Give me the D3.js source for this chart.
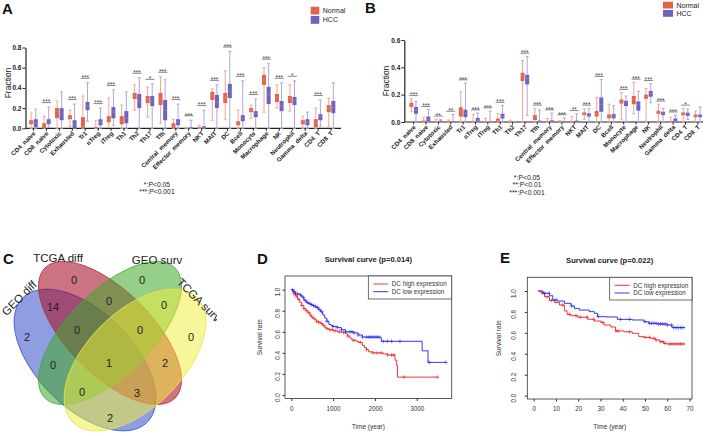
<!DOCTYPE html>
<html><head><meta charset="utf-8">
<script src="https://cdn.jsdelivr.net/npm/d3@7/dist/d3.min.js"></script>
<style>
body{margin:0;background:#fff}
svg{display:block}
text{font-family:"Liberation Sans",Arial,Helvetica,sans-serif}
</style>
</head><body>
<svg id="c" width="708" height="436"></svg>
<script>
// ---------------- DATA ----------------
const cells = ["CD4_naive","CD8_naive","Cytotoxic","Exhausted","Tr1","nTreg","iTreg","Th1","Th2","Th17","Tfh",
  "Central_memory","Effector_memory","NKT","MAIT","DC","Bcell","Monocyte","Macrophage","NK","Neutrophil",
  "Gamma_delta","CD4_T","CD8_T"];
const groups = ["Normal","HCC"];
// [min, q1, median, q3, max]
const aNormal = [[0,0.04,0.06,0.08,0.15],[0,0,0.03,0.05,0.12],[0,0.1,0.17,0.2,0.27],[0.02,0.09,0.11,0.13,0.18],
  [0,0,0.02,0.11,0.32],[0,0,0,0.01,0.08],[0.01,0.06,0.09,0.12,0.3],[0,0.04,0.08,0.12,0.23],
  [0.18,0.29,0.32,0.35,0.43],[0.11,0.25,0.29,0.32,0.41],[0.05,0.23,0.3,0.35,0.51],[0,0,0.02,0.05,0.09],
  [0,0,0,0,0.01],[0,0,0,0.01,0.03],[0.08,0.28,0.33,0.36,0.39],[0.09,0.25,0.3,0.35,0.57],
  [0,0.03,0.05,0.07,0.18],[0.1,0.16,0.18,0.2,0.23],[0.16,0.43,0.48,0.53,0.6],[0.2,0.26,0.3,0.34,0.43],
  [0.17,0.25,0.29,0.32,0.43],[0,0.04,0.06,0.08,0.12],[0,0.01,0.05,0.09,0.2],[0.02,0.16,0.2,0.23,0.3]];
const aHCC = [[0,0.01,0.05,0.09,0.19],[0.01,0.04,0.06,0.09,0.21],[0,0.08,0.15,0.2,0.36],[0,0,0.04,0.08,0.24],
  [0.07,0.18,0.22,0.26,0.45],[0,0.03,0.06,0.09,0.2],[0.03,0.1,0.16,0.21,0.38],[0,0.05,0.1,0.17,0.36],
  [0,0.2,0.27,0.34,0.5],[0,0.22,0.27,0.32,0.44],[0,0.08,0.18,0.28,0.48],[0,0.03,0.06,0.09,0.24],
  [0,0,0,0.01,0.08],[0,0,0.01,0.02,0.18],[0,0.2,0.26,0.33,0.43],[0,0.3,0.37,0.44,0.76],
  [0,0.07,0.1,0.13,0.47],[0,0.11,0.15,0.17,0.29],[0,0.24,0.33,0.41,0.64],[0,0.17,0.22,0.27,0.45],
  [0,0.23,0.28,0.31,0.47],[0,0.03,0.06,0.09,0.16],[0.02,0.08,0.12,0.14,0.28],[0,0.15,0.21,0.27,0.45]];
const aSig = ["","***","","***","***","***","***","","***","*","***","***","***","***","***","***","***","***","***","***","*","","***",""];
const aNotes = ["*:P<0.05","***:P<0.001"];
const aTicks = [0,0.2,0.4,0.6,0.8];

const bNormal = [[0.075,0.11,0.125,0.14,0.17],[0,0,0.005,0.01,0.035],[0,0,0,0.005,0.02],[0,0,0,0.005,0.015],
  [0,0.04,0.08,0.107,0.22],[0,0,0,0.005,0.055],[0,0,0,0.003,0.028],[0,0.003,0.01,0.025,0.06],
  [0,0,0,0,0.013],[0,0.3,0.34,0.36,0.45],[0,0.015,0.035,0.05,0.1],[0,0,0,0.005,0.025],
  [0,0,0,0,0.01],[0,0,0,0.005,0.04],[0.02,0.05,0.06,0.07,0.095],[0,0.04,0.06,0.08,0.18],
  [0,0.027,0.04,0.055,0.13],[0.02,0.135,0.155,0.165,0.215],[0.06,0.13,0.165,0.19,0.29],[0,0.17,0.185,0.2,0.245],
  [0,0.06,0.075,0.083,0.13],[0,0,0,0.005,0.035],[0,0.05,0.06,0.07,0.1],[0,0.035,0.045,0.055,0.08]];
const bHCC = [[0,0.06,0.09,0.11,0.15],[0,0.005,0.02,0.04,0.09],[0,0,0.005,0.01,0.02],[0,0,0.002,0.005,0.055],
  [0,0.035,0.065,0.09,0.285],[0,0.003,0.015,0.03,0.065],[0,0,0,0.003,0.08],[0,0.025,0.04,0.06,0.12],
  [0,0,0,0,0.005],[0.05,0.275,0.32,0.345,0.48],[0,0,0.003,0.01,0.088],[0,0,0.005,0.012,0.065],
  [0,0,0,0.003,0.03],[0,0,0.005,0.01,0.06],[0,0.04,0.05,0.063,0.1],[0,0.075,0.13,0.18,0.31],
  [0,0.027,0.045,0.058,0.12],[0,0.117,0.14,0.155,0.19],[0,0.083,0.13,0.15,0.225],[0.14,0.185,0.21,0.227,0.28],
  [0,0.05,0.065,0.075,0.1],[0,0.002,0.01,0.025,0.05],[0.02,0.045,0.06,0.068,0.095],[0,0.035,0.045,0.055,0.11]];
const bSig = ["***","***","**","**","***","***","***","***","","***","***","***","***","**","***","***","","***","***","***","***","***","*",""];
const bNotes = ["*:P<0.05","**:P<0.01","***:P<0.001"];
const bTicks = [0,0.2,0.4,0.6];

// Venn (C)
const vennSets = ["GEO diff","TCGA diff","GEO surv","TCGA surv"];
const vennRegions = ["A","B","C","D","AB","BC","CD","AC","BD","AD","ABC","BCD","ACD","ABD","ABCD"];
const vennCounts = [2,0,0,0,14,0,0,0,2,2,0,0,0,3,1];

// Survival D (time in days)
const dHigh = [[0,1],[30,0.98],[60,0.96],[100,0.94],[150,0.91],[200,0.88],[250,0.85],[300,0.82],[350,0.8],[400,0.78],
  [450,0.75],[500,0.73],[550,0.72],[600,0.7],[650,0.69],[700,0.68],[750,0.66],[800,0.64],[850,0.63],[900,0.62],
  [1000,0.61],[1100,0.6],[1200,0.595],[1300,0.58],[1350,0.56],[1400,0.54],[1450,0.52],[1550,0.51],[1600,0.5],
  [1700,0.47],[1750,0.45],[1800,0.43],[1850,0.41],[1950,0.4],[2200,0.39],[2300,0.38],[2480,0.33],[2520,0.28],
  [2540,0.17],[3500,0.17]];
const dHighCensor = [60,120,180,250,300,360,420,480,540,600,660,720,780,850,920,980,1050,1150,1250,1350,1500,
  1650,1800,1950,2050,2150,2300,2400,2450,2700,3500];
const dLow = [[0,1],[50,0.98],[100,0.96],[200,0.95],[250,0.93],[300,0.9],[350,0.88],[400,0.87],[450,0.86],[500,0.85],
  [550,0.84],[600,0.83],[650,0.81],[700,0.79],[750,0.76],[800,0.73],[850,0.7],[900,0.67],[950,0.66],[1000,0.65],
  [1100,0.64],[1200,0.62],[1300,0.6],[1500,0.59],[1600,0.57],[1700,0.55],[2150,0.51],[3130,0.42],[3270,0.31],[3700,0.31]];
const dLowCensor = [30,80,150,220,280,330,380,430,480,530,580,630,680,730,850,1000,1100,1200,1300,1400,1450,1500,
  1600,1700,1800,1850,1900,1950,2000,2050,2100,2200,2300,2400,2600,3300,3700];
const dTicks = [0,1000,2000,3000];

// Survival E (time in years)
const eHigh = [[2,1],[3.4,0.98],[4.9,0.946],[7.1,0.91],[9.4,0.89],[11.6,0.866],[13.8,0.81],[15,0.777],[16.8,0.764],
  [19.8,0.75],[24.2,0.73],[27.2,0.713],[30.2,0.7],[31.6,0.675],[34.6,0.656],[36.8,0.618],[40.6,0.61],[44.3,0.596],
  [47.2,0.564],[49.5,0.557],[52.5,0.548],[54.7,0.532],[56.6,0.516],[58.4,0.5],[59.6,0.494],[68,0.494]];
const eHighCensor = [4,6,8,13,16,19,21,24,27,31,37,38,43,50,52,54,55,57,58,59,61,62,63,64,65,66,67];
const eLow = [[2,1],[4.2,0.978],[7.1,0.955],[8.6,0.914],[10.8,0.904],[13.8,0.882],[16.8,0.857],[18.3,0.834],
  [20.5,0.818],[25,0.803],[27.2,0.787],[28.7,0.755],[32.4,0.752],[37.6,0.729],[44.3,0.723],[49.5,0.707],
  [51.7,0.691],[55.4,0.685],[60,0.675],[62.1,0.65],[68,0.65]];
const eLowCensor = [5,7,10,17,29,39,43,50,52,53,54,55,56,57,58,59,60,62,63,64,65,66,67];
const eTicks = [0,10,20,30,40,50,60,70];
const survTicks = [0,0.2,0.4,0.6,0.8,1.0];
const kmLegend = ["DC high expression","DC low expression"];

// ---------------- DRAW ----------------
const svg = d3.select("#c");
const INK = "#222";
const colN = "#e1644b", colH = "#6e64be";
const colNl = "#f0a592", colHl = "#aca6dc";

function panelLetter(t, x, y){
  svg.append("text").attr("x",x).attr("y",y).attr("font-size",15).attr("font-weight","bold").attr("fill","#111").text(t);
}

function drawBoxPanel(p){
  const g = svg.append("g");
  const x = d3.scaleBand().domain(cells).range(p.xRange);
  const y = d3.scaleLinear().domain([0, p.ticks[p.ticks.length-1]]).range(p.yRange);
  const y0 = y(0);
  const ya = g.append("g").attr("transform",`translate(${p.axisX},0)`)
    .call(d3.axisLeft(y).tickValues(p.ticks).tickFormat(d3.format(".1f")).tickSize(3).tickSizeOuter(0));
  ya.select(".domain").attr("stroke",INK).attr("stroke-width",1.2);
  ya.selectAll(".tick line").attr("stroke",INK).attr("stroke-width",1);
  ya.selectAll(".tick text").attr("font-size",6.5).attr("font-weight","bold").attr("fill",INK).attr("x",-4);
  const xa = g.append("g").attr("transform",`translate(0,${y0})`)
    .call(d3.axisBottom(x).tickSize(2.5).tickSizeOuter(0));
  xa.select(".domain").remove();
  xa.selectAll(".tick line").attr("stroke",INK);
  xa.selectAll(".tick text").attr("font-size",6.2).attr("font-weight","bold").attr("fill",INK)
    .attr("text-anchor","end").attr("y",0).attr("dy",0)
    .attr("transform","translate(2.5,5.5) rotate(-45)");
  g.append("line").attr("x1",p.axisX).attr("x2",p.xEnd).attr("y1",y0).attr("y2",y0).attr("stroke",INK).attr("stroke-width",1.2);
  const bw = 4, off = 2.3;
  [[p.normal,-off,colN,colNl],[p.hcc,off,colH,colHl]].forEach(([data,o,c,cl])=>{
    const gg = g.append("g").selectAll("g").data(data).join("g")
      .attr("transform",(d,i)=>`translate(${x(cells[i])+x.bandwidth()/2+o},0)`);
    gg.append("line").attr("y1",d=>y(d[0])).attr("y2",d=>y(d[4])).attr("stroke",cl).attr("stroke-width",1);
    gg.append("line").attr("x1",-1.5).attr("x2",1.5).attr("y1",d=>y(d[4])).attr("y2",d=>y(d[4])).attr("stroke",cl).attr("stroke-width",1);
    gg.append("line").attr("x1",-1.5).attr("x2",1.5).attr("y1",d=>y(d[0])).attr("y2",d=>y(d[0])).attr("stroke",cl).attr("stroke-width",1);
    gg.append("rect").attr("x",-bw/2).attr("width",bw)
      .attr("y",d=>y(d[3])).attr("height",d=>Math.max(0.8,y(d[1])-y(d[3]))).attr("fill",c);
    gg.append("line").attr("x1",-bw/2).attr("x2",bw/2).attr("y1",d=>y(d[2])).attr("y2",d=>y(d[2]))
      .attr("stroke","#fff").attr("stroke-opacity",0.25).attr("stroke-width",0.6);
  });
  cells.forEach((c,i)=>{
    if(!p.sig[i]) return;
    const top = Math.min(y(p.normal[i][4]), y(p.hcc[i][4])) - p.sigGap;
    const cx = x(c)+x.bandwidth()/2;
    g.append("line").attr("x1",cx-4.5).attr("x2",cx+4.5).attr("y1",top).attr("y2",top).attr("stroke","#555").attr("stroke-width",0.7);
    g.append("text").attr("x",cx).attr("y",top+1.8).attr("text-anchor","middle").attr("font-size",6.5).attr("fill","#444").text(p.sig[i]);
  });
  g.append("text").attr("transform",`translate(${p.titleX},${p.titleY}) rotate(-90)`).attr("text-anchor","middle")
    .attr("font-size",8.5).attr("fill",INK).text("Fraction");
  groups.forEach((gname,k)=>{
    g.append("rect").attr("x",p.legX).attr("y",p.legY+k*p.legStep).attr("width",p.legW).attr("height",p.legH).attr("fill",k?colH:colN);
    g.append("text").attr("x",p.legX+p.legW+3.5).attr("y",p.legY+k*p.legStep+p.legH/2+2.4).attr("font-size",7).attr("fill",INK).text(gname);
  });
  p.notes.forEach((t,k)=>{
    g.append("text").attr("x",p.noteX).attr("y",p.noteY+k*7.8).attr("text-anchor","middle").attr("font-size",6.8).attr("fill",INK).text(t);
  });
}

drawBoxPanel({normal:aNormal,hcc:aHCC,sig:aSig,ticks:aTicks,notes:aNotes,
  xRange:[27,337.5],yRange:[128.3,47.5],axisX:25.5,xEnd:341,sigGap:4.5,
  titleX:11,titleY:83,legX:310.7,legY:6.7,legStep:9.3,legW:8.6,legH:7.8,noteX:157,noteY:186.5});
drawBoxPanel({normal:bNormal,hcc:bHCC,sig:bSig,ticks:bTicks,notes:bNotes,
  xRange:[407.5,704],yRange:[122,40],axisX:404.3,xEnd:703,sigGap:3.2,
  titleX:389,titleY:81,legX:663,legY:1.7,legStep:8.3,legW:10,legH:6.8,noteX:527,noteY:179.5});
panelLetter("A",2,14);
panelLetter("B",365,13);

// ---------- Venn ----------
(function(){
  const cx0 = 110, cy0 = 333;
  svg.append("clipPath").attr("id","vclip").append("rect").attr("x",0).attr("y",225).attr("width",217).attr("height",211);
  const outer = svg.append("g").attr("clip-path","url(#vclip)");
  const vg = outer.append("g").attr("transform",`translate(${cx0},${cy0})`);
  // layout (px relative to center): dx, dy, semi-major, semi-minor, rotation
  const shapes = [[-25,27,88,48,45],[0,0,92,42,45],[0,0,92,42,-45],[25,27,88,48,-45]];
  const fills = ["#2a44c6","#a8102a","#3fa82a","#f0ee3a"];
  const opac = [0.52,0.58,0.55,0.52];
  const strokes = ["#3a50c8","#b82838","#44a838","#e6e648"];
  shapes.forEach((s,i)=>{
    vg.append("ellipse").attr("cx",s[0]).attr("cy",s[1]).attr("rx",s[2]).attr("ry",s[3])
      .attr("transform",`rotate(${s[4]} ${s[0]} ${s[1]})`)
      .attr("fill",fills[i]).attr("fill-opacity",opac[i]).attr("stroke",strokes[i]).attr("stroke-width",0.8);
  });
  const regionPos = {A:[-83,4],B:[-36,-53],C:[32,-53],D:[81,4],AB:[-57,-26],BC:[-1,-32],CD:[54,-28],AC:[-57,32],
    BD:[55,30],AD:[0,85],ABC:[-33,-3],BCD:[30,-3],ACD:[-28,59],ABD:[27,60],ABCD:[-1,30]};
  vennRegions.forEach((r,i)=>{
    vg.append("text").attr("x",regionPos[r][0]).attr("y",regionPos[r][1]).attr("dy","0.36em").attr("text-anchor","middle")
      .attr("font-size",11).attr("fill",INK).text(vennCounts[i]);
  });
  const labelPos = [[-91,-35,-45],[-52,-75,0],[47,-73,0],[89,-33,45]];
  vennSets.forEach((t,i)=>{
    const [lx,ly,rot] = labelPos[i];
    vg.append("text").attr("transform",`translate(${lx},${ly}) rotate(${rot})`).attr("dy","0.36em")
      .attr("text-anchor","middle").attr("font-size",11.5).attr("fill",INK).text(t);
  });
})();
panelLetter("C",3,264);

// ---------- KM ----------
function stepAt(steps,t){ let s = steps[0][1]; for(const d of steps){ if(d[0]<=t) s=d[1]; else break; } return s; }
function drawKM(p){
  const g = svg.append("g");
  const x = d3.scaleLinear().domain(p.xDomain).range([p.left,p.right]);
  const y = d3.scaleLinear().domain(p.yDomain).range([p.bottom,p.top]);
  g.append("rect").attr("x",p.left).attr("y",p.top).attr("width",p.right-p.left).attr("height",p.bottom-p.top)
    .attr("fill","none").attr("stroke","#333").attr("stroke-width",0.8);
  const xa = g.append("g").attr("transform",`translate(0,${p.bottom})`)
    .call(d3.axisBottom(x).tickValues(p.xTicks).tickFormat(d3.format("d")).tickSize(2.5).tickSizeOuter(0));
  xa.select(".domain").remove();
  xa.selectAll("line").attr("stroke","#333");
  xa.selectAll("text").attr("font-size",6.3).attr("fill","#333").attr("y",p.xLabOff);
  const ya = g.append("g").attr("transform",`translate(${p.left},0)`)
    .call(d3.axisLeft(y).tickValues(survTicks).tickFormat(d3.format(".1f")).tickSize(2.5).tickSizeOuter(0));
  ya.select(".domain").remove();
  ya.selectAll("line").attr("stroke","#333");
  ya.selectAll("text").attr("font-size",6.3).attr("fill","#333").attr("text-anchor","middle")
    .attr("x",0).attr("dy",0).attr("transform",`translate(${-p.yLabOff},2) rotate(-90)`);
  const line = d3.line().x(d=>x(d[0])).y(d=>y(d[1])).curve(d3.curveStepAfter);
  [[p.high,p.highC,"#ee2020"],[p.low,p.lowC,"#2020f0"]].forEach(([st,cs,c])=>{
    g.append("path").attr("d",line(st)).attr("fill","none").attr("stroke",c).attr("stroke-width",0.9);
    g.append("g").selectAll("path").data(cs).join("path")
      .attr("d",t=>`M${x(t)-2},${y(stepAt(st,t))}h4M${x(t)},${y(stepAt(st,t))-2}v4`)
      .attr("stroke",c).attr("stroke-width",0.7).attr("stroke-opacity",0.75);
  });
  g.append("rect").attr("x",p.legX).attr("y",p.top).attr("width",p.right-p.legX).attr("height",p.legH)
    .attr("fill","#fff").attr("stroke","#333").attr("stroke-width",0.7);
  kmLegend.forEach((t,k)=>{
    const ly = p.top+8+k*7.7;
    g.append("line").attr("x1",p.legX+5).attr("x2",p.legX+20).attr("y1",ly).attr("y2",ly).attr("stroke",k?"#2020f0":"#ee2020").attr("stroke-width",0.9);
    g.append("text").attr("x",p.legX+23.5).attr("y",ly+2.2).attr("font-size",6.3).attr("fill","#333").text(t);
  });
  g.append("text").attr("x",(p.left+p.right)/2).attr("y",p.top-14.5).attr("text-anchor","middle")
    .attr("font-size",7.6).attr("font-weight","bold").attr("fill","#222").text(p.title);
  g.append("text").attr("x",(p.left+p.right)/2).attr("y",p.bottom+30).attr("text-anchor","middle")
    .attr("font-size",6.5).attr("fill","#333").text("Time (year)");
  g.append("text").attr("transform",`translate(${p.left-p.yTitleOff},${(p.top+p.bottom)/2}) rotate(-90)`).attr("text-anchor","middle")
    .attr("font-size",6.5).attr("fill","#333").text("Survival rate");
}
drawKM({high:dHigh,highC:dHighCensor,low:dLow,lowC:dLowCensor,xTicks:dTicks,title:"Survival curve (p=0.014)",
  xDomain:[-151,3837],yDomain:[-0.033,1.13],left:285,right:451.7,top:276,bottom:398.5,legX:368.3,legH:23,
  xLabOff:8,yLabOff:5,yTitleOff:23});
drawKM({high:eHigh,highC:eHighCensor,low:eLow,lowC:eLowCensor,xTicks:eTicks,title:"Survival curve (p=0.022)",
  xDomain:[-2.85,71.1],yDomain:[-0.032,1.131],left:527.3,right:692,top:277.3,bottom:399,legX:609.7,legH:22.7,
  xLabOff:8,yLabOff:11,yTitleOff:26});
panelLetter("D",257,264);
panelLetter("E",500,263);
</script>
</body></html>
